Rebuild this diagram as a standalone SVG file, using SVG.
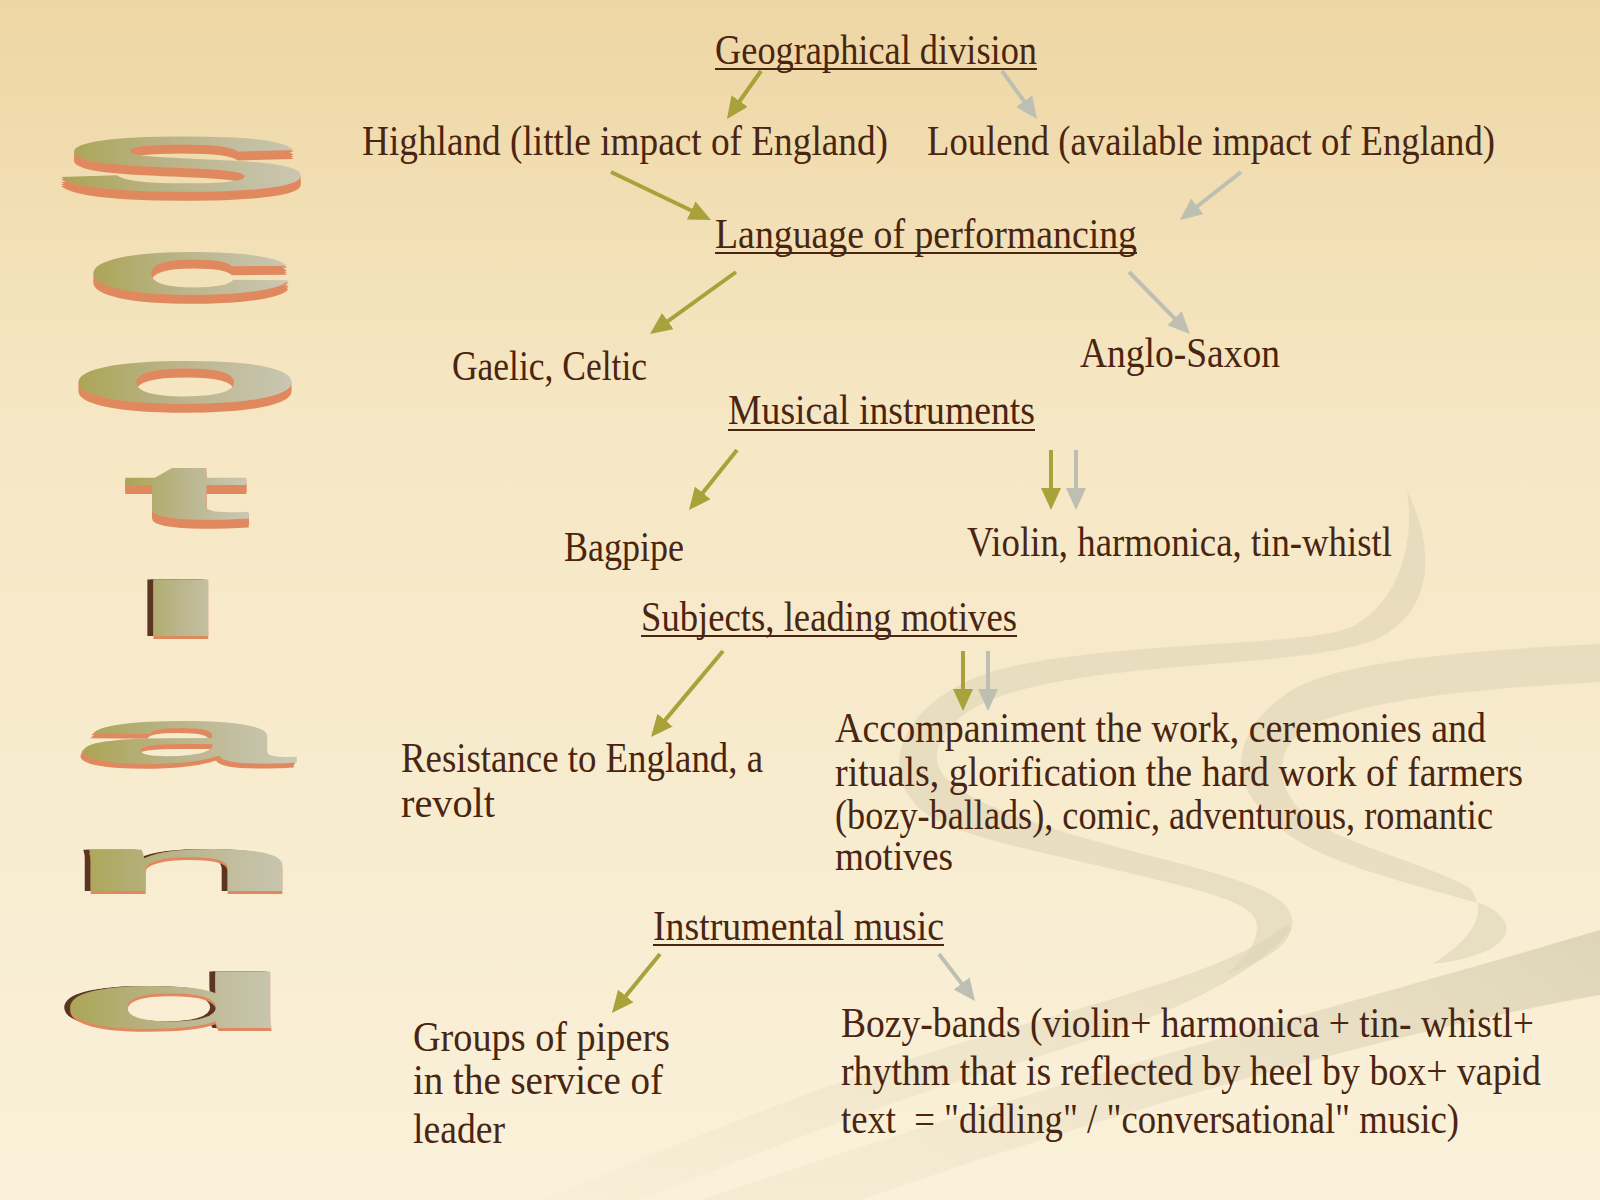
<svg xmlns="http://www.w3.org/2000/svg" width="1600" height="1200" viewBox="0 0 1600 1200">
<defs>
  <linearGradient id="bg" x1="0" y1="0" x2="0" y2="1">
    <stop offset="0" stop-color="#EED6A4"/>
    <stop offset="0.35" stop-color="#F6E7C4"/>
    <stop offset="1" stop-color="#FAF1DA"/>
  </linearGradient>
  <linearGradient id="face" x1="0" y1="0" x2="1" y2="0">
    <stop offset="0" stop-color="#A9A34E"/>
    <stop offset="0.45" stop-color="#B9B488"/>
    <stop offset="1" stop-color="#CCC9B8"/>
  </linearGradient>
  <linearGradient id="bandC" x1="1" y1="0" x2="0" y2="0.4">
    <stop offset="0" stop-color="#D6CCAE" stop-opacity="0.75"/>
    <stop offset="1" stop-color="#E4DBC0" stop-opacity="0.25"/>
  </linearGradient>
  <linearGradient id="tail" x1="1" y1="0" x2="0" y2="1">
    <stop offset="0" stop-color="#D9CFB1" stop-opacity="0.6"/>
    <stop offset="1" stop-color="#E6DDC3" stop-opacity="0.1"/>
  </linearGradient>
  <filter id="exTop" x="-10%" y="-15%" width="120%" height="160%">
    <feOffset in="SourceAlpha" dy="3" result="a"/>
    <feOffset in="SourceAlpha" dy="6" result="b"/>
    <feOffset in="SourceAlpha" dy="9" result="c"/>
    <feOffset in="SourceAlpha" dy="12" result="d"/>
    <feMerge result="m"><feMergeNode in="a"/><feMergeNode in="b"/><feMergeNode in="c"/><feMergeNode in="d"/></feMerge>
    <feFlood flood-color="#E0895F"/>
    <feComposite in2="m" operator="in" result="ex"/>
    <feMerge><feMergeNode in="ex"/><feMergeNode in="SourceGraphic"/></feMerge>
  </filter>
  <filter id="exSide" x="-15%" y="-15%" width="130%" height="150%">
    <feOffset in="SourceAlpha" dx="-0.75" result="a"/>
    <feOffset in="SourceAlpha" dx="-1.5" result="b"/>
    <feMerge result="m"><feMergeNode in="a"/><feMergeNode in="b"/></feMerge>
    <feFlood flood-color="#5C3421"/>
    <feComposite in2="m" operator="in" result="dk"/>
    <feOffset in="SourceAlpha" dy="4" result="c"/>
    <feFlood flood-color="#E0895F"/>
    <feComposite in2="c" operator="in" result="ex"/>
    <feMerge><feMergeNode in="dk"/><feMergeNode in="ex"/><feMergeNode in="SourceGraphic"/></feMerge>
  </filter>
  <filter id="exA" x="-15%" y="-15%" width="130%" height="150%">
    <feOffset in="SourceAlpha" dx="-0.4" dy="3" result="a"/>
    <feOffset in="SourceAlpha" dx="-0.8" dy="6" result="b"/>
    <feMerge result="m"><feMergeNode in="a"/><feMergeNode in="b"/></feMerge>
    <feFlood flood-color="#E0895F"/>
    <feComposite in2="m" operator="in" result="ex"/>
    <feMerge><feMergeNode in="ex"/><feMergeNode in="SourceGraphic"/></feMerge>
  </filter>
  <marker id="ao" markerUnits="userSpaceOnUse" markerWidth="22" markerHeight="20" viewBox="0 0 22 20" refX="14" refY="10" orient="auto">
    <path d="M0,0 L22,10 L0,20 Z" fill="#A9A23A"/>
  </marker>
  <marker id="ag" markerUnits="userSpaceOnUse" markerWidth="22" markerHeight="20" viewBox="0 0 22 20" refX="14" refY="10" orient="auto">
    <path d="M0,0 L22,10 L0,20 Z" fill="#BDBFB2"/>
  </marker>
</defs>
<style>
  .t { font-family: "Liberation Serif", "DejaVu Serif", serif; font-size: 42px; fill: #4A2511; }
  .ul { stroke: #4A2511; stroke-width: 2; }
  .co { stroke: #A9A23A; stroke-width: 4; fill: none; marker-end: url(#ao); }
  .cg { stroke: #BDBFB2; stroke-width: 4; fill: none; marker-end: url(#ag); }
  .L { font-family: "Liberation Sans", Arial, sans-serif; font-weight: bold; font-size: 100px; text-anchor: middle; fill: url(#face); }
  .top { filter: url(#exTop); }
  .side { filter: url(#exSide); }
  .sa { filter: url(#exA); }
  .band { fill: #DDD3B5; opacity: 0.6; }
</style>

<rect x="0" y="0" width="1600" height="1200" fill="url(#bg)"/>

<g id="background-swirls">
  <path fill="url(#bandC)" d="M1600,930 C1400,990 1050,1080 700,1200 L860,1200 C1120,1110 1400,1030 1600,995 Z"/>
  <path fill="url(#tail)" d="M1285,925 C1230,975 1060,1010 900,1062 C780,1100 640,1160 540,1200 L640,1200 C740,1160 860,1112 970,1078 C1110,1035 1240,995 1292,928 Z"/>
  <path class="band" d="M1407,491 C1432,540 1440,610 1375,640 C1300,668 1120,660 1010,693 C960,708 935,735 937,760 C940,790 1000,815 1110,845 C1200,870 1285,885 1292,918 C1296,945 1262,962 1225,975 C1250,955 1262,935 1255,918 C1245,900 1190,888 1150,878 C1030,848 935,835 912,800 C885,770 895,705 990,672 C1100,640 1320,648 1355,625 C1400,600 1415,540 1407,491 Z"/>
  <path class="band" d="M1600,644 C1480,650 1330,660 1285,695 C1240,725 1225,775 1262,810 C1300,860 1400,880 1485,905 C1525,925 1510,955 1433,964 C1470,940 1490,915 1470,888 C1420,860 1330,842 1300,810 C1270,778 1278,740 1318,722 C1390,695 1500,688 1600,682 Z"/>
</g>

<g id="title-scotland">
  <g id="letter-S" transform="translate(183,191) scale(4,0.78)"><text class="L top">S</text></g>
  <g id="letter-c" transform="translate(189,294) scale(4,0.78)"><text class="L top">c</text></g>
  <g id="letter-o" transform="translate(185,403) scale(4,0.78)"><text class="L top">o</text></g>
  <g id="letter-t" transform="translate(187,519) scale(4,0.78)"><text class="L top">t</text></g>
  <g id="letter-l" transform="translate(181,636) scale(4,0.78)"><text class="L side">l</text></g>
  <g id="letter-a" transform="translate(183,763) scale(4,0.78)"><text class="L sa">a</text></g>
  <g id="letter-n" transform="translate(185,891) scale(4,0.78)"><text class="L side">n</text></g>
  <g id="letter-d" transform="translate(176,1028) scale(4,0.78)"><text class="L side">d</text></g>
</g>

<g id="connectors">
  <line class="co" x1="761" y1="71" x2="731.6" y2="112.5"/>
  <line class="cg" x1="1002" y1="71" x2="1032.3" y2="112.5"/>
  <line class="co" x1="611" y1="172" x2="703.8" y2="216.5"/>
  <line class="cg" x1="1241" y1="172" x2="1186.3" y2="215"/>
  <line class="co" x1="736" y1="272" x2="656.5" y2="329.3"/>
  <line class="cg" x1="1129" y1="272" x2="1184.4" y2="328.3"/>
  <line class="co" x1="737" y1="450" x2="694" y2="503.8"/>
  <line class="co" x1="1051" y1="450" x2="1051" y2="502"/>
  <line class="cg" x1="1076" y1="450" x2="1076" y2="502"/>
  <line class="co" x1="723" y1="651" x2="656.1" y2="730.9"/>
  <line class="co" x1="963" y1="651" x2="963" y2="703"/>
  <line class="cg" x1="988" y1="651" x2="988" y2="703"/>
  <line class="co" x1="660" y1="954" x2="617" y2="1006.8"/>
  <line class="cg" x1="939" y1="954" x2="970.1" y2="994.6"/>
</g>

<g id="n-geo">
  <text class="t" x="715" y="64" textLength="322" lengthAdjust="spacingAndGlyphs">Geographical division</text>
  <line class="ul" x1="715" y1="69" x2="1037" y2="69"/>
</g>
<g id="n-highland">
  <text class="t" x="362" y="155" textLength="526" lengthAdjust="spacingAndGlyphs">Highland (little impact of England)</text>
</g>
<g id="n-loulend">
  <text class="t" x="927" y="155" textLength="568" lengthAdjust="spacingAndGlyphs">Loulend (available impact of England)</text>
</g>
<g id="n-language">
  <text class="t" x="715" y="248" textLength="422" lengthAdjust="spacingAndGlyphs">Language of performancing</text>
  <line class="ul" x1="715" y1="253" x2="1137" y2="253"/>
</g>
<g id="n-gaelic">
  <text class="t" x="452" y="380" textLength="195" lengthAdjust="spacingAndGlyphs">Gaelic, Celtic</text>
</g>
<g id="n-anglo">
  <text class="t" x="1080" y="367" textLength="200" lengthAdjust="spacingAndGlyphs">Anglo-Saxon</text>
</g>
<g id="n-musical">
  <text class="t" x="728" y="424" textLength="307" lengthAdjust="spacingAndGlyphs">Musical instruments</text>
  <line class="ul" x1="728" y1="430" x2="1035" y2="430"/>
</g>
<g id="n-bagpipe">
  <text class="t" x="564" y="561" textLength="120" lengthAdjust="spacingAndGlyphs">Bagpipe</text>
</g>
<g id="n-violin">
  <text class="t" x="967" y="556" textLength="425" lengthAdjust="spacingAndGlyphs">Violin, harmonica, tin-whistl</text>
</g>
<g id="n-subjects">
  <text class="t" x="641" y="631" textLength="376" lengthAdjust="spacingAndGlyphs">Subjects, leading motives</text>
  <line class="ul" x1="641" y1="636" x2="1017" y2="636"/>
</g>
<g id="n-resistance">
  <text class="t" x="401" y="772" textLength="362" lengthAdjust="spacingAndGlyphs">Resistance to England, a</text>
  <text class="t" x="401" y="817" textLength="94" lengthAdjust="spacingAndGlyphs">revolt</text>
</g>
<g id="n-accompaniment">
  <text class="t" x="835" y="742" textLength="651" lengthAdjust="spacingAndGlyphs">Accompaniment the work, ceremonies and</text>
  <text class="t" x="835" y="786" textLength="688" lengthAdjust="spacingAndGlyphs">rituals, glorification the hard work of farmers</text>
  <text class="t" x="835" y="829" textLength="658" lengthAdjust="spacingAndGlyphs">(bozy-ballads), comic, adventurous, romantic</text>
  <text class="t" x="835" y="870" textLength="118" lengthAdjust="spacingAndGlyphs">motives</text>
</g>
<g id="n-instrumental">
  <text class="t" x="653" y="940" textLength="291" lengthAdjust="spacingAndGlyphs">Instrumental music</text>
  <line class="ul" x1="653" y1="945" x2="944" y2="945"/>
</g>
<g id="n-groups">
  <text class="t" x="413" y="1051" textLength="257" lengthAdjust="spacingAndGlyphs">Groups of pipers</text>
  <text class="t" x="413" y="1094" textLength="250" lengthAdjust="spacingAndGlyphs">in the service of</text>
  <text class="t" x="413" y="1143" textLength="92" lengthAdjust="spacingAndGlyphs">leader</text>
</g>
<g id="n-bozy">
  <text class="t" x="841" y="1037" textLength="693" lengthAdjust="spacingAndGlyphs">Bozy-bands (violin+ harmonica + tin- whistl+</text>
  <text class="t" x="841" y="1085" textLength="700" lengthAdjust="spacingAndGlyphs">rhythm that is reflected by heel by box+ vapid</text>
  <text class="t" x="841" y="1133" textLength="618" lengthAdjust="spacingAndGlyphs" xml:space="preserve">text  = "didling" / "conversational" music)</text>
</g>
</svg>
